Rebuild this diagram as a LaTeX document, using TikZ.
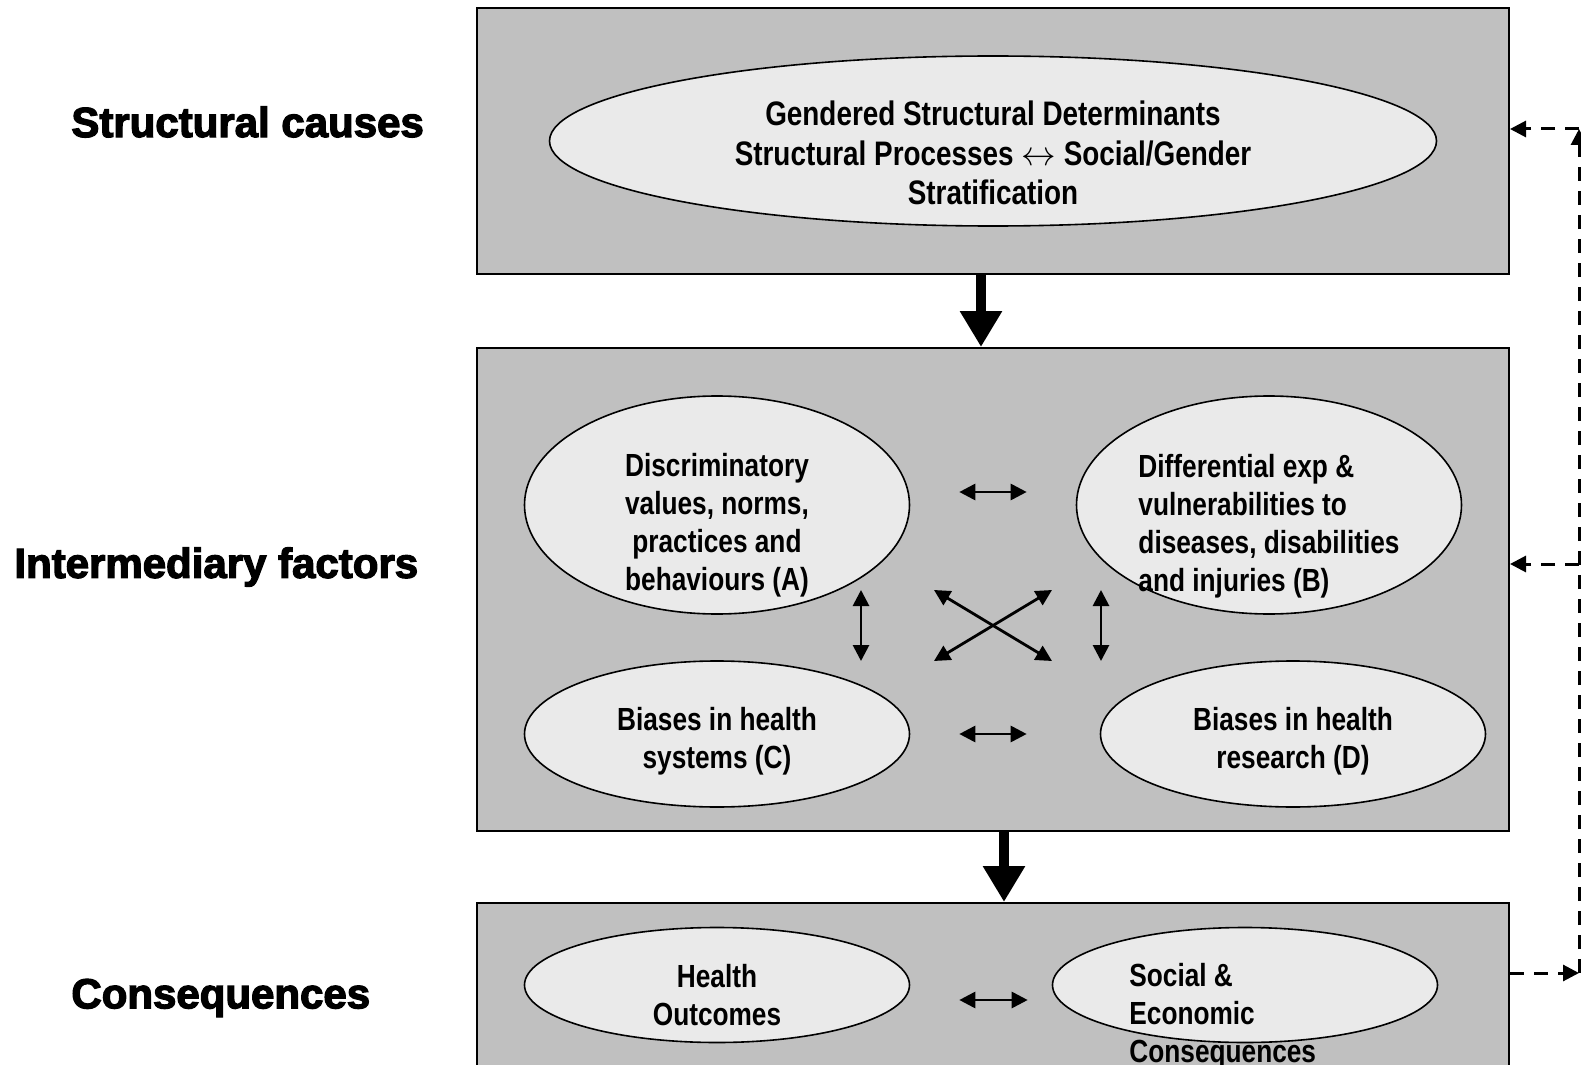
\documentclass[tikz,border=0pt]{standalone}
\usepackage{fontspec}
\setmainfont{Liberation Sans}
\newfontfamily\narrowsans[FakeStretch=0.82]{Liberation Sans}
\newfontfamily\heavysans[FakeBold=3]{Liberation Sans}
\usetikzlibrary{arrows.meta,calc,positioning,shapes.geometric}
\definecolor{panelgray}{HTML}{C0C0C0}
\definecolor{ovalgray}{HTML}{EAEAEA}

\begin{document}
\begin{tikzpicture}[
    x=0.5pt, y=-0.5pt,
    panel/.style={rectangle,draw,line width=1pt,fill=panelgray,minimum width=516pt,inner sep=0pt},
    oval/.style={ellipse,draw,line width=0.8pt,fill=ovalgray,inner sep=0pt,minimum width=192.5pt},
    txt/.style={font=\narrowsans\bfseries\fontsize{16}{19}\selectfont,align=center,inner sep=0pt},
    level/.style={font=\heavysans\bfseries\fontsize{21}{25}\selectfont,anchor=west,inner sep=0pt},
    bigarrow/.style={-{Triangle[length=18pt,width=20pt]},line width=5pt},
    duo/.style={{Triangle[length=8pt,width=8pt]}-{Triangle[length=8pt,width=8pt]},line width=1.4pt},
    fb/.style={-{Triangle[length=8pt,width=8pt]},line width=1.5pt,dash pattern=on 7pt off 5pt}
  ]
  \clip (0,0) rectangle (1581,1065);
  \fill[white] (0,0) rectangle (1581,1065);

  % the three levels
  \node[panel,minimum height=133pt] (top) at (993,141) {};
  \node[panel,minimum height=241.5pt] (mid) at (993,589.5) {};
  \node[panel,minimum height=108.5pt] (bot) at (993,1011.5) {};

  \node[level] (lblS) at (71,122) {Structural causes};
  \node[level] (lblI) at (14,567) {Intermediary factors};
  \node[level] (lblC) at (71,998) {Consequences};

  % structural causes
  \node[oval,minimum width=443.5pt,minimum height=85pt] (G) at (993,141) {};
  \node[txt,font=\narrowsans\bfseries\fontsize{17}{19.7}\selectfont] (Gt) at (993,153)
    {Gendered Structural Determinants\\Structural Processes $\leftrightarrow$ Social/Gender\\Stratification};

  % intermediary factors
  \node[oval,minimum height=109pt] (A) at (717,505) {};
  \node[oval,minimum height=109pt] (B) at (1269,505) {};
  \node[oval,minimum height=73pt] (C) at (717,734) {};
  \node[oval,minimum height=73pt] (D) at (1293,734) {};
  \node[txt] (At) at (717,525) {Discriminatory\\values, norms,\\practices and\\behaviours (A)};
  \node[txt,align=left] (Bt) at (1269,526) {Differential exp \&\\vulnerabilities to\\diseases, disabilities\\and injuries (B)};
  \node[txt] (Ct) at (717,741) {Biases in health\\systems (C)};
  \node[txt] (Dt) at (1293,741) {Biases in health\\research (D)};

  % consequences
  \node[oval,minimum height=57.5pt] (H) at (717,985) {};
  \node[oval,minimum height=57.5pt] (S) at (1245,985) {};
  \node[txt] (Ht) at (717,995) {Health\\Outcomes};
  \node[txt,align=left,anchor=west] (St) at (1129,1016) {Social \&\\Economic\\Consequences};

  % flow between levels
  \draw[bigarrow] ([xshift=-6pt]top.south) -- ([xshift=-6pt]mid.north);
  \draw[bigarrow] ([xshift=5.5pt]mid.south) -- ([xshift=5.5pt]bot.north);

  % links inside the levels
  \draw[duo,shorten <=24.5pt,shorten >=24.5pt] ([yshift=6.5pt]A.east) -- ([yshift=6.5pt]B.west);
  \draw[duo,shorten <=24.5pt,shorten >=36.5pt] (C.east) -- (D.west);
  \draw[duo,shorten <=24.5pt,shorten >=12pt] ([yshift=-7.5pt]H.east) -- ([yshift=-7.5pt]S.west);
  \draw[duo] (861,590) -- (861,661);
  \draw[duo] (1101,590) -- (1101,661);
  \draw[duo] (934,590) -- (1052,661);
  \draw[duo] (1052,590) -- (934,661);

  % feedback loop
  \coordinate (loopB) at (1579,973);
  \coordinate (loopM) at (1579,564);
  \coordinate (loopT) at (1579,129);
  \draw[fb] (bot.east |- loopB) -- (loopB);
  \draw[fb] (loopB) -- (loopT);
  \draw[fb] (loopT) -- (loopT -| top.east);
  \draw[fb] (loopM) -- (loopM -| mid.east);
\end{tikzpicture}
\end{document}
